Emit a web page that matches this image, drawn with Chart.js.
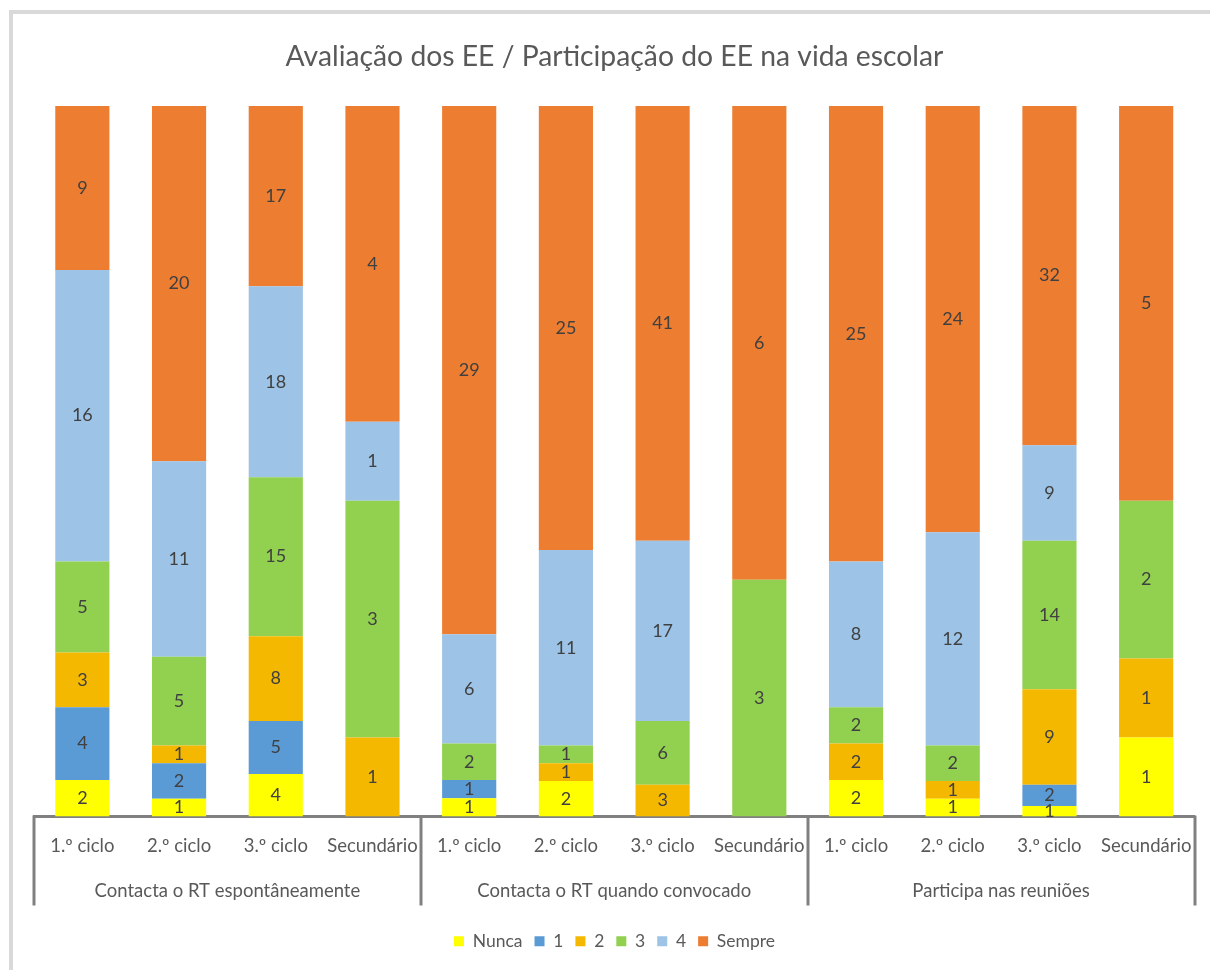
<!DOCTYPE html>
<html>
<head>
<meta charset="utf-8">
<script src="https://cdn.jsdelivr.net/npm/chart.js@4/dist/chart.umd.min.js"></script>
<style>
  html, body { margin: 0; padding: 0; background: #ffffff; }
  #wrap { position: relative; width: 1210px; height: 970px; overflow: hidden; background: #fff; }
  #frame { position: absolute; left: 9px; top: 10px; width: 1300px; height: 1100px;
           border-top: 4px solid #d9d9d9; border-left: 4px solid #d9d9d9; box-sizing: border-box; }
  #c { position: absolute; left: 0; top: 0; }
</style>
</head>
<body>
<div id="wrap">
  <div id="frame"></div>
  <canvas id="c" width="1210" height="970"></canvas>
</div>
<script>
const title = "Avaliação dos EE / Participação do EE na vida escolar";
const groups = ["Contacta o RT espontâneamente", "Contacta o RT quando convocado", "Participa nas reuniões"];
const levels = ["1.º ciclo", "2.º ciclo", "3.º ciclo", "Secundário"];
const seriesNames = ["Nunca", "1", "2", "3", "4", "Sempre"];
const seriesColors = ["#FFFF00", "#5B9BD5", "#F5B800", "#92D050", "#9DC3E6", "#ED7D31"];

// counts per bar (12 bars: 3 groups x 4 levels)
const nunca  = [2, 1, 4, 0,   1, 2, 0, 0,   2, 1, 1, 1];
const um     = [4, 2, 5, 0,   1, 0, 0, 0,   0, 0, 2, 0];
const dois   = [3, 1, 8, 1,   0, 1, 3, 0,   2, 1, 9, 1];
const tres   = [5, 5, 15, 3,  2, 1, 6, 3,   2, 2, 14, 2];
const quatro = [16, 11, 18, 1, 6, 11, 17, 0, 8, 12, 9, 0];
const sempre = [9, 20, 17, 4, 29, 25, 41, 6, 25, 24, 32, 5];

const counts = [nunca, um, dois, tres, quatro, sempre];
const labels = [];
groups.forEach(() => levels.forEach(l => labels.push(l)));
const groupLabels = groups;

const totals = labels.map((_, i) => counts.reduce((s, arr) => s + arr[i], 0));

const datasets = counts.map((arr, k) => ({
  label: seriesNames[k],
  data: arr.map((v, i) => v / totals[i] * 100),
  raw: arr,
  backgroundColor: seriesColors[k],
  borderWidth: 0,
  categoryPercentage: 1.0,
  barPercentage: 0.56,
  xAxisID: 'x',
  yAxisID: 'y'
}));

const FONT = "Lato, 'Open Sans', sans-serif";

const valueLabels = {
  id: 'valueLabels',
  afterDatasetsDraw(chart) {
    const ctx = chart.ctx;
    ctx.save();
    ctx.font = "18px " + FONT;
    ctx.fillStyle = "#404040";
    ctx.textAlign = "center";
    ctx.textBaseline = "middle";
    chart.data.datasets.forEach((ds, di) => {
      const meta = chart.getDatasetMeta(di);
      meta.data.forEach((el, i) => {
        const v = ds.raw[i];
        if (!v) return;
        const yc = (el.y + el.base) / 2;
        ctx.fillText(String(v), el.x, yc);
      });
    });
    ctx.restore();
  }
};

const separators = {
  id: 'separators',
  afterDraw(chart) {
    const x = chart.scales.x;
    const ctx = chart.ctx;
    ctx.save();
    ctx.strokeStyle = "#808080";
    ctx.lineWidth = 3;
    [0, 4, 8, 12].forEach(b => {
      const px = Math.round(x.getPixelForValue(b - 0.5));
      ctx.beginPath();
      ctx.moveTo(px, x.top - 1);
      ctx.lineTo(px, x.top + 89);
      ctx.stroke();
    });
    ctx.restore();
  }
};

new Chart(document.getElementById('c'), {
  type: 'bar',
  data: { labels: labels, datasets: datasets },
  options: {
    responsive: false,
    animation: false,
    layout: { padding: { left: 34, right: 15, top: 0, bottom: 10 } },
    plugins: {
      title: {
        display: true,
        text: title,
        color: "#595959",
        font: { family: FONT, size: 28.3, weight: 'normal' },
        padding: { top: 40, bottom: 32 }
      },
      legend: {
        display: true,
        position: 'bottom',
        labels: {
          boxWidth: 10, boxHeight: 10,
          color: "#595959",
          font: { family: FONT, size: 17.5 },
          padding: 12
        }
      },
      tooltip: { enabled: false }
    },
    scales: {
      x: {
        stacked: true,
        offset: true,
        grid: { display: false, drawOnChartArea: false, drawTicks: false },
        border: { display: true, color: "#808080", width: 3 },
        ticks: { color: "#595959", font: { family: FONT, size: 18.5 }, padding: 18, maxRotation: 0, autoSkip: false },
        afterFit: s => { s.height = 40; }
      },
      x2: {
        type: 'category',
        labels: groupLabels,
        offset: true,
        position: 'bottom',
        grid: { display: false, drawTicks: false },
        border: { display: false },
        ticks: { color: "#595959", font: { family: FONT, size: 18.5 }, padding: 23, maxRotation: 0 },
        afterFit: s => { s.height = 64; }
      },
      y: {
        stacked: true,
        min: 0,
        max: 100,
        display: false
      }
    }
  },
  plugins: [valueLabels, separators]
});
</script>
</body>
</html>
